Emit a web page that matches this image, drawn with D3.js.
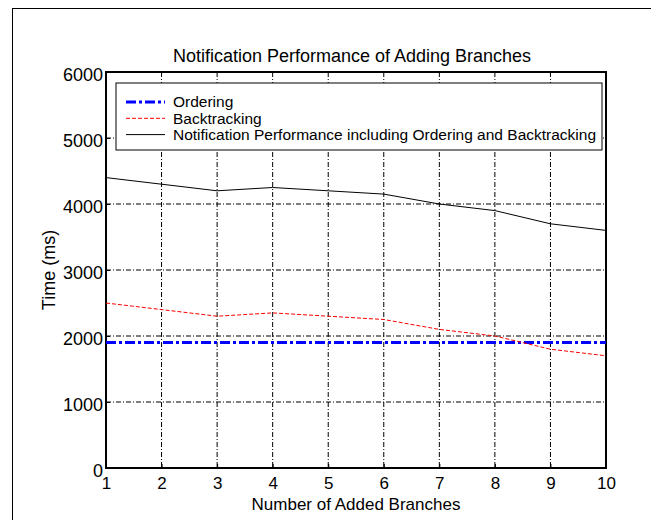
<!DOCTYPE html>
<html>
<head>
<meta charset="utf-8">
<script src="https://cdn.jsdelivr.net/npm/d3@7"></script>
<style>
  body { margin: 0; background: #fff; }
  text { font-family: "Liberation Sans", Arial, sans-serif; fill: #000; }
</style>
</head>
<body>
<div id="chart"></div>
<script>
const branches = [1, 2, 3, 4, 5, 6, 7, 8, 9, 10];
const ordering = [1900, 1900, 1900, 1900, 1900, 1900, 1900, 1900, 1900, 1900];
const backtracking = [2500, 2400, 2300, 2350, 2300, 2250, 2100, 2000, 1800, 1700];
const total = [4400, 4300, 4200, 4250, 4200, 4150, 4000, 3900, 3700, 3600];
const yTicks = [0, 1000, 2000, 3000, 4000, 5000, 6000];
const legendLabels = ['Ordering', 'Backtracking', 'Notification Performance including Ordering and Backtracking'];

const width = 651, height = 520;
const margin = { top: 72, right: 45, bottom: 52, left: 106 };
const innerW = width - margin.left - margin.right;
const innerH = height - margin.top - margin.bottom;

const svg = d3.select('#chart').append('svg')
  .attr('width', width)
  .attr('height', height);

// outer figure frame
svg.append('rect')
  .attr('x', 12.5).attr('y', 8.5)
  .attr('width', 660).attr('height', 530)
  .attr('fill', 'none')
  .attr('stroke', '#000')
  .attr('stroke-width', 1);

const g = svg.append('g')
  .attr('transform', `translate(${margin.left}, ${margin.top})`);

const x = d3.scaleLinear().domain([1, 10]).range([0, innerW]);
const y = d3.scaleLinear().domain([0, 6000]).range([innerH, 0]);

// grid
const grid = g.append('g').attr('class', 'grid');
grid.selectAll('.vgrid')
  .data(branches.slice(1, -1))
  .enter().append('line')
  .attr('x1', d => x(d)).attr('x2', d => x(d))
  .attr('y1', 0).attr('y2', innerH)
  .attr('stroke', '#000').attr('stroke-width', 1)
  .attr('stroke-dasharray', '5,2,1,2');
grid.selectAll('.hgrid')
  .data(yTicks.slice(1, -1))
  .enter().append('line')
  .attr('x1', 0).attr('x2', innerW)
  .attr('y1', d => y(d)).attr('y2', d => y(d))
  .attr('stroke', '#000').attr('stroke-width', 1)
  .attr('stroke-dasharray', '5,2,1,2');

// axes (ticks point inward)
const xAxis = g.append('g')
  .attr('transform', `translate(0, ${innerH})`)
  .call(d3.axisBottom(x).tickValues(branches).tickFormat(d3.format('d')).tickSizeInner(-4).tickSizeOuter(0).tickPadding(9));
const yAxis = g.append('g')
  .call(d3.axisLeft(y).tickValues(yTicks).tickFormat(d3.format('d')).tickSizeInner(-4).tickSizeOuter(0).tickPadding(3));
[xAxis, yAxis].forEach(a => {
  a.select('.domain').remove();
  a.selectAll('text').style('font-size', '18px').attr('font-family', '"Liberation Sans", Arial, sans-serif');
});
xAxis.selectAll('text').style('font-size', '17px');
yAxis.selectAll('text').attr('dy', '0.45em');

// plot box
g.append('rect')
  .attr('x', 0).attr('y', 0)
  .attr('width', innerW).attr('height', innerH)
  .attr('fill', 'none')
  .attr('stroke', '#000')
  .attr('stroke-width', 2);

const line = d3.line()
  .x((d, i) => x(branches[i]))
  .y(d => y(d));

const series = [
  { values: ordering, color: '#0000ff', width: 3, dash: '10,3,3,3' },
  { values: backtracking, color: '#ff0000', width: 1, dash: '4,2' },
  { values: total, color: '#000', width: 1, dash: null }
];

series.forEach(s => {
  g.append('path')
    .datum(s.values)
    .attr('d', line)
    .attr('fill', 'none')
    .attr('stroke', s.color)
    .attr('stroke-width', s.width)
    .attr('stroke-dasharray', s.dash);
});

// legend
const legend = g.append('g').attr('transform', 'translate(10, 11)');
legend.append('rect')
  .attr('width', 486).attr('height', 67)
  .attr('fill', '#fff')
  .attr('stroke', '#000')
  .attr('stroke-width', 1);
series.forEach((s, i) => {
  const ly = 19 + i * 16.3;
  legend.append('line')
    .attr('x1', 10).attr('x2', 49)
    .attr('y1', ly).attr('y2', ly)
    .attr('stroke', s.color)
    .attr('stroke-width', s.width)
    .attr('stroke-dasharray', s.dash);
  legend.append('text')
    .attr('x', 57).attr('y', ly)
    .attr('dy', '0.35em')
    .style('font-size', '15.5px')
    .text(legendLabels[i]);
});

// title and axis labels
svg.append('text')
  .attr('x', 352).attr('y', 62)
  .attr('text-anchor', 'middle')
  .style('font-size', '18px')
  .text('Notification Performance of Adding Branches');

svg.append('text')
  .attr('x', margin.left + innerW / 2).attr('y', 510)
  .attr('text-anchor', 'middle')
  .style('font-size', '17px')
  .text('Number of Added Branches');

svg.append('text')
  .attr('transform', `translate(55, ${margin.top + innerH / 2}) rotate(-90)`)
  .attr('text-anchor', 'middle')
  .style('font-size', '18px')
  .text('Time (ms)');
</script>
</body>
</html>
